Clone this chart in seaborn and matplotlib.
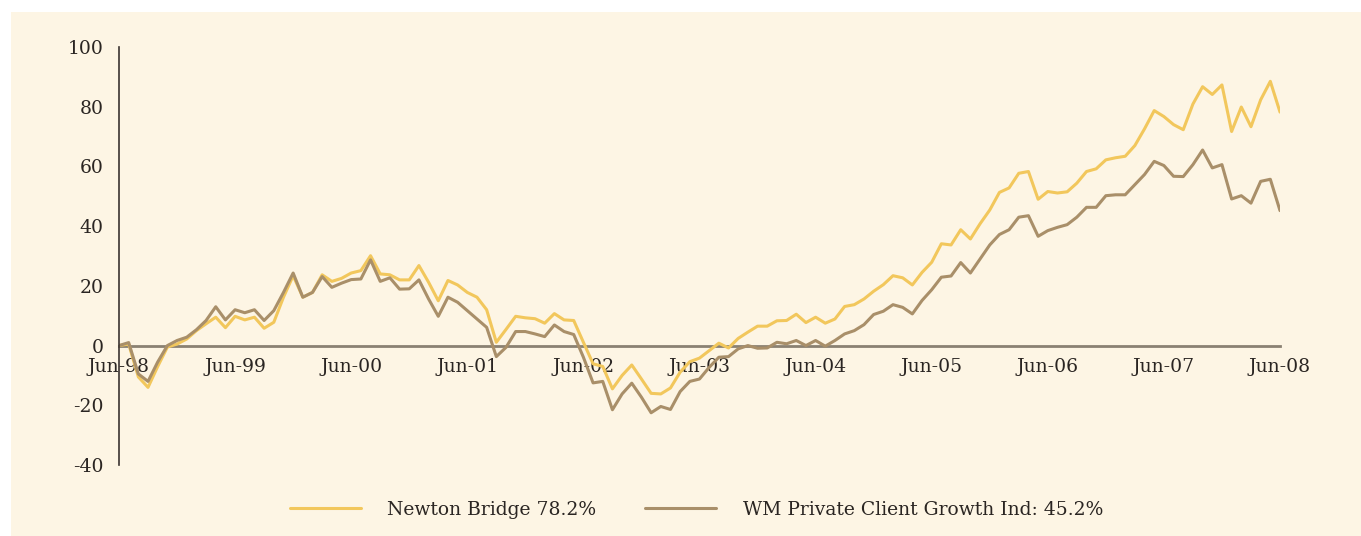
### IMPORTS
import numpy as np
import pandas as pd
import matplotlib
matplotlib.use("Agg")
import matplotlib.pyplot as plt
from matplotlib.patches import Rectangle
import seaborn as sns

### DATA (cumulative % return, monthly Jun-98 .. Jun-08)
newton = [0, 0.5, -10.5, -14, -7, -0.5, 0.5, 2.2, 5, 7.3, 9.5, 6,
          9.8, 8.6, 9.5, 5.8, 7.8, 16.2, 23.4, 16.2, 17.8, 23.7, 21.5, 22.5,
          24.3, 25.1, 30.1, 24, 23.7, 22, 22, 26.8, 21.2, 15, 21.8, 20.3,
          17.8, 16.2, 12, 1.1, 5.4, 9.8, 9.3, 9, 7.5, 10.7, 8.6, 8.4,
          1.1, -6.1, -7, -14.5, -10, -6.5, -11.2, -16, -16.2, -14.2, -8.9, -5.4,
          -4.2, -1.7, 0.8, -0.8, 2.4, 4.5, 6.5, 6.5, 8.3, 8.4, 10.5, 7.7,
          9.5, 7.5, 8.9, 13.1, 13.7, 15.6, 18.2, 20.4, 23.4, 22.7, 20.3, 24.5,
          27.9, 34.1, 33.7, 38.8, 35.7, 40.8, 45.4, 51.3, 52.8, 57.7, 58.3, 49,
          51.6, 51.1, 51.5, 54.4, 58.3, 59.2, 62.2, 62.9, 63.4, 67, 72.6, 78.7,
          76.7, 74, 72.3, 80.9, 86.7, 84.1, 87.3, 71.7, 79.9, 73.3, 82.3, 88.5,
          78.2]
wm = [0, 1, -9.5, -12, -5.5, 0, 1.7, 2.8, 5.3, 8.4, 13, 8.6,
      12, 11, 12, 8.4, 11.7, 17.8, 24.3, 16.2, 17.8, 23.1, 19.5, 20.9,
      22.1, 22.3, 28.7, 21.5, 22.7, 18.9, 19, 22, 15.6, 9.8, 16.2, 14.5,
      11.7, 8.9, 6.1, -3.7, -0.6, 4.7, 4.7, 3.9, 3, 6.9, 4.7, 3.7,
      -3.9, -12.5, -12, -21.5, -16.2, -12.6, -17.3, -22.5, -20.4, -21.4, -15.4, -12,
      -11.2, -7.3, -3.9, -3.7, -1.1, 0, -0.9, -0.8, 1.1, 0.6, 1.7, 0,
      1.7, -0.2, 1.7, 3.9, 5, 7, 10.4, 11.5, 13.7, 12.8, 10.6, 15.1,
      18.7, 22.9, 23.3, 27.8, 24.3, 29, 33.7, 37.2, 38.8, 43, 43.5, 36.6,
      38.5, 39.6, 40.5, 43, 46.3, 46.3, 50.2, 50.5, 50.5, 53.9, 57.3, 61.7,
      60.3, 56.7, 56.6, 60.6, 65.5, 59.5, 60.6, 49.1, 50.2, 47.7, 55, 55.7,
      45.2]
series_names = ["Newton Bridge 78.2%", "WM Private Client Growth Ind: 45.2%"]
tick_labels = ["Jun-98", "Jun-99", "Jun-00", "Jun-01", "Jun-02", "Jun-03",
               "Jun-04", "Jun-05", "Jun-06", "Jun-07", "Jun-08"]
y_ticks = [-40, -20, 0, 20, 40, 60, 80, 100]

months = np.arange(len(newton))
df = pd.DataFrame({
    "month": np.concatenate([months, months]),
    "value": newton + wm,
    "series": [series_names[0]] * len(newton) + [series_names[1]] * len(wm),
})

### STYLE
cream = "#FDF5E4"
txt = "#2a2522"
fs = 13.5
colors = {series_names[0]: "#F2C75C", series_names[1]: "#A98F69"}
sns.set_style("white")
plt.rcParams["font.family"] = ["DejaVu Serif"]

fig = plt.figure(figsize=(13.61, 5.36), dpi=100)
fig.patch.set_facecolor("white")
fig.patches.append(Rectangle((11 / 1361, 0), 1 - 11 / 1361, 1 - 12 / 536,
                             transform=fig.transFigure, facecolor=cream,
                             edgecolor="none", zorder=-10))
ax = fig.add_axes([119 / 1361, 1 - 465 / 536, (1280 - 119) / 1361, 418 / 536])
ax.patch.set_alpha(0)

### PLOT
sns.lineplot(data=df, x="month", y="value", hue="series", palette=colors,
             linewidth=2.2, ax=ax, legend=True)

# spines first (moving a spine resets the ticks)
for s in ["top", "right"]:
    ax.spines[s].set_visible(False)
ax.spines["bottom"].set_position(("data", 0))
ax.spines["bottom"].set_color("#8a8172")
ax.spines["bottom"].set_linewidth(2)
ax.spines["bottom"].set_zorder(1)
ax.spines["left"].set_color("#3a3330")
ax.spines["left"].set_linewidth(1.2)

ax.set_xlim(0, 120)
ax.set_ylim(-40, 100)
ax.set_yticks(y_ticks)
ax.set_yticklabels([str(t) for t in y_ticks], fontsize=fs, color=txt)
ax.set_xticks(np.arange(0, 121, 12))
ax.set_xticklabels(tick_labels, fontsize=fs, color=txt)
ax.tick_params(axis="both", length=0)
ax.tick_params(axis="y", pad=11)
ax.tick_params(axis="x", pad=9)
ax.set_xlabel("")
ax.set_ylabel("")

handles, labels = ax.get_legend_handles_labels()
leg = ax.legend(handles, labels, loc="center",
                bbox_to_anchor=(0.5 + 16 / 1361, 1 - 510 / 536),
                bbox_transform=fig.transFigure, ncol=2, frameon=False,
                fontsize=fs, handlelength=3.8, handletextpad=1.4,
                columnspacing=2.6)
for t in leg.get_texts():
    t.set_color(txt)

plt.savefig("out.png", dpi=100, facecolor=fig.get_facecolor())
